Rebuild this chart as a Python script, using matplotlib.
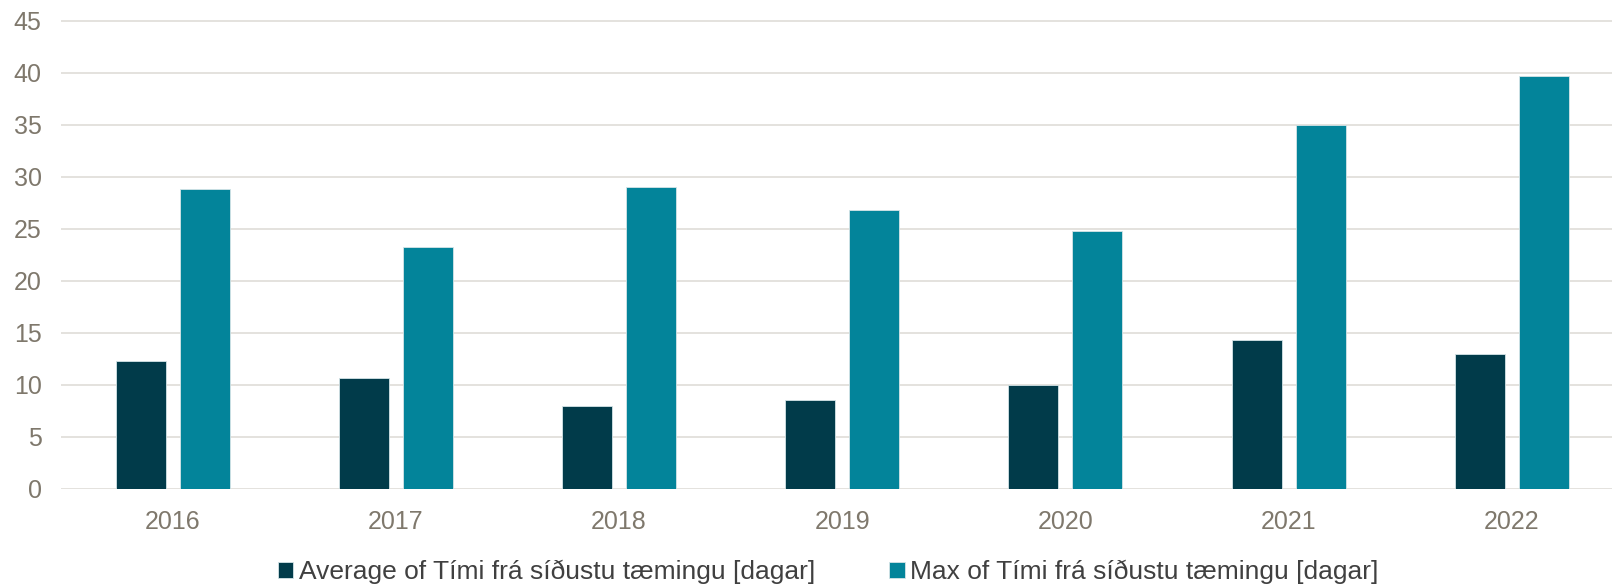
import numpy as np
import matplotlib
matplotlib.use("Agg")
import matplotlib.pyplot as plt

plt.rcParams['font.family'] = ['Liberation Sans', 'DejaVu Sans']

years = ['2016', '2017', '2018', '2019', '2020', '2021', '2022']
avg_days = [12.3, 10.7, 8.0, 8.55, 10.0, 14.3, 13.0]
max_days = [28.8, 23.2, 29.0, 26.8, 24.75, 35.0, 39.7]
labels = ['Average of Tími frá síðustu tæmingu [dagar]',
          'Max of Tími frá síðustu tæmingu [dagar]']

W, H = 1612, 585
fig = plt.figure(figsize=(W / 100, H / 100), dpi=100)

# axes in pixel terms: x from 61 to the figure edge, y from 489 (zero) up
ppu = 10.41  # pixels per day
top_px = 10
ax = fig.add_axes([61 / W, (H - 489) / H, (W - 61) / W, (489 - top_px) / H])

x = np.arange(len(years))
bw = 0.224
off = 0.143
ax.bar(x - off, avg_days, bw, color='#013B4A', edgecolor='#d5e4e7', linewidth=0.6,
       label=labels[0], zorder=3)
ax.bar(x + off, max_days, bw, color='#03849A', edgecolor='#d5e4e7', linewidth=0.6,
       label=labels[1], zorder=3)

ax.set_ylim(0, (489 - top_px) / ppu)
ax.set_xlim(-0.5, -0.5 + (W - 61) / 223.2)
ax.set_yticks(range(0, 50, 5))
ax.set_xticks(x)
ax.set_xticklabels(years)

ax.grid(axis='y', color='#DFDDD8', linewidth=1.2, zorder=0)
for s in ax.spines.values():
    s.set_visible(False)
ax.tick_params(axis='both', length=0, labelsize=18, colors='#7F786C')
ax.tick_params(axis='y', pad=14)
ax.tick_params(axis='x', pad=15)

fig.legend(loc='center', bbox_to_anchor=(828 / W, 1 - 572 / H), ncol=2,
           frameon=False, fontsize=19, handlelength=0.6, handleheight=0.6,
           handletextpad=0.2, columnspacing=2.8, labelcolor='#404040')

fig.savefig('out.png', dpi=100)
